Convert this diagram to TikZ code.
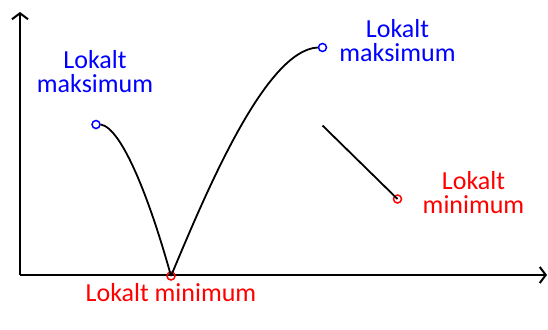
\documentclass[tikz,border=0pt]{standalone}
\usepackage{fontspec}
\setmainfont{Carlito}
\usetikzlibrary{arrows.meta}

\tikzset{
  axis/.style={line width=2pt, -{Straight Barb[length=6pt, width=16pt, line width=2pt]}},
  curve/.style={line width=1.8pt},
  maxpt/.style={circle, draw=blue, line width=1.5pt, minimum size=8pt, inner sep=0pt},
  minpt/.style={circle, draw=red, line width=1.5pt, minimum size=8pt, inner sep=0pt},
  maxlabel/.style={text=blue, align=center, inner sep=0pt, font=\fontsize{26}{24}\selectfont},
  minlabel/.style={text=red, align=center, inner sep=0pt, font=\fontsize{26}{24}\selectfont}
}

\begin{document}
\begin{tikzpicture}[x=1pt, y=-1pt]
\useasboundingbox (0,0) rectangle (548,329);
\coordinate (O) at (20,275);
\coordinate (Ytop) at (20,12);
\coordinate (Xend) at (547,275);
\draw[axis] (O) -- (Ytop);
\draw[axis] (O) -- (Xend);
\coordinate (lineStart) at (322.5,125.5);
\node[maxpt] (maxA) at (96,124.5) {};
\node[minpt] (minA) at (171,276) {};
\node[maxpt] (maxB) at (322.5,47.5) {};
\node[minpt] (minB) at (397.5,199) {};
\draw[curve] (maxA.east) .. controls (122,128) and (150,200) .. (minA.center);
\draw[curve] (minA.center) .. controls (205,195) and (265,50) .. (maxB.west);
\draw[curve] (lineStart) -- (minB.center);
\node[maxlabel] (labA) at (95,72) {Lokalt\\maksimum};
\node[maxlabel] (labB) at (397.5,41) {Lokalt\\maksimum};
\node[minlabel] (labC) at (473.5,193) {Lokalt\\minimum};
\node[minlabel, anchor=base] (labD) at (171,301) {Lokalt minimum};
\end{tikzpicture}
\end{document}
